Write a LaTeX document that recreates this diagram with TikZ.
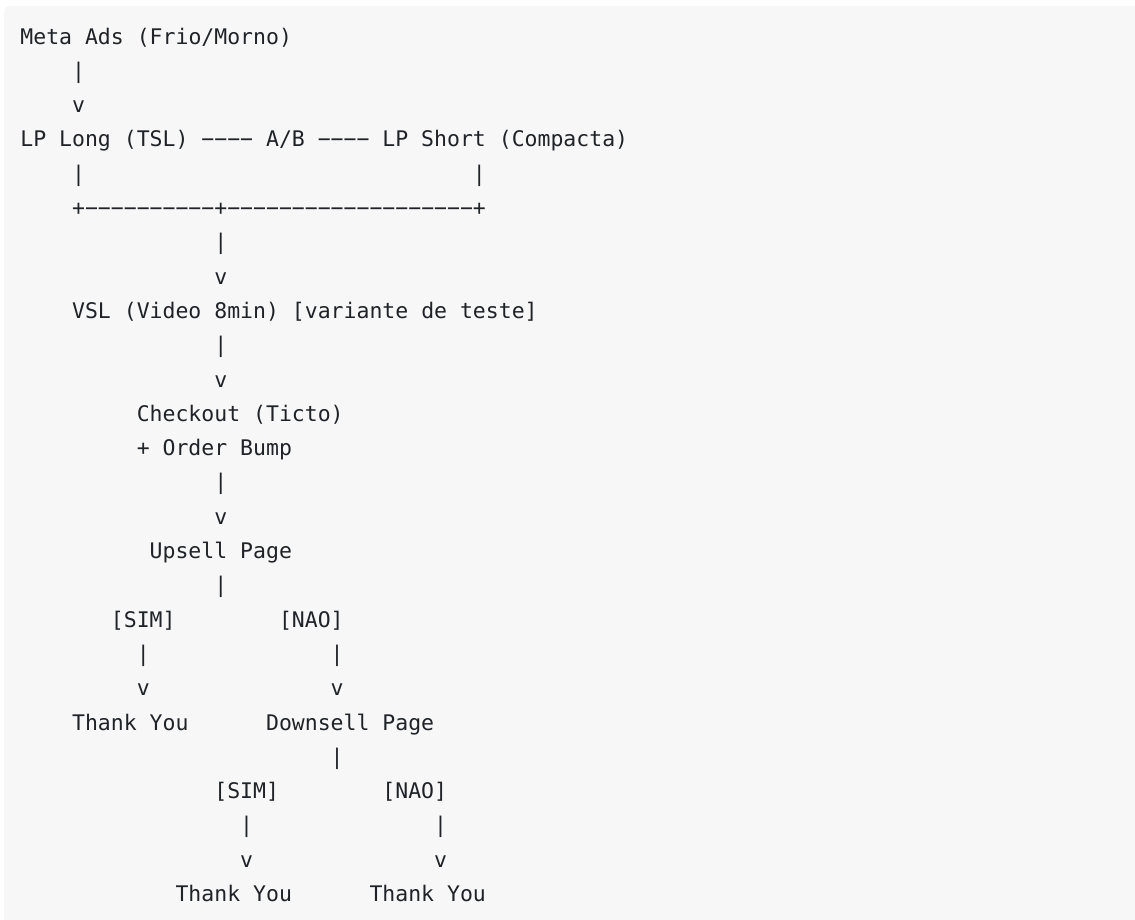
\documentclass[tikz,border=0pt]{standalone}
\usepackage{fontspec}
\setmonofont{DejaVu Sans Mono}
\definecolor{bg}{HTML}{F7F7F7}
\definecolor{fg}{HTML}{1F2328}
\begin{document}
\begin{tikzpicture}[x=1pt,y=-1pt,
  txt/.style={anchor=base west,inner sep=0pt,outer sep=0pt,text=fg,
    font=\ttfamily\fontsize{21.48}{34.3}\selectfont},
  cell/.style 2 args={at={({20.4+#1*12.93},{44+(#2-1)*34.3})}}]
\useasboundingbox (0,0) rectangle (1135,919);
\fill[bg,rounded corners=6pt] (4,6) rectangle (1145,929);
% line 1-3
\node[txt,cell={0}{1}] (meta) {Meta Ads (Frio/Morno)};
\node[txt,cell={4}{2}] (c1a) {|};
\node[txt,cell={4}{3}] (c1b) {v};
% line 4
\node[txt,cell={0}{4}] (lplong) {LP Long (TSL)};
\node[txt,cell={14}{4}] (ab1) {−−−−};
\node[txt,cell={19}{4}] (ab) {A/B};
\node[txt,cell={23}{4}] (ab2) {−−−−};
\node[txt,cell={28}{4}] (lpshort) {LP Short (Compacta)};
% line 5-8
\node[txt,cell={4}{5}] (c2a) {|};
\node[txt,cell={35}{5}] (c2b) {|};
\node[txt,cell={4}{6}] (join) {+−−−−−−−−−−+−−−−−−−−−−−−−−−−−−−+};
\node[txt,cell={15}{7}] (c3a) {|};
\node[txt,cell={15}{8}] (c3b) {v};
% line 9-11
\node[txt,cell={4}{9}] (vsl) {VSL (Video 8min) [variante de teste]};
\node[txt,cell={15}{10}] (c4a) {|};
\node[txt,cell={15}{11}] (c4b) {v};
% line 12-15
\node[txt,cell={9}{12}] (checkout) {Checkout (Ticto)};
\node[txt,cell={9}{13}] (bump) {+ Order Bump};
\node[txt,cell={15}{14}] (c5a) {|};
\node[txt,cell={15}{15}] (c5b) {v};
% line 16-21
\node[txt,cell={10}{16}] (upsell) {Upsell Page};
\node[txt,cell={15}{17}] (c6) {|};
\node[txt,cell={7}{18}] (sim1) {[SIM]};
\node[txt,cell={20}{18}] (nao1) {[NAO]};
\node[txt,cell={9}{19}] (c7a) {|};
\node[txt,cell={24}{19}] (c8a) {|};
\node[txt,cell={9}{20}] (c7b) {v};
\node[txt,cell={24}{20}] (c8b) {v};
\node[txt,cell={4}{21}] (ty1) {Thank You};
\node[txt,cell={19}{21}] (downsell) {Downsell Page};
% line 22-26
\node[txt,cell={24}{22}] (c9) {|};
\node[txt,cell={15}{23}] (sim2) {[SIM]};
\node[txt,cell={28}{23}] (nao2) {[NAO]};
\node[txt,cell={17}{24}] (c10a) {|};
\node[txt,cell={32}{24}] (c11a) {|};
\node[txt,cell={17}{25}] (c10b) {v};
\node[txt,cell={32}{25}] (c11b) {v};
\node[txt,cell={12}{26}] (ty2) {Thank You};
\node[txt,cell={27}{26}] (ty3) {Thank You};
\end{tikzpicture}
\end{document}
